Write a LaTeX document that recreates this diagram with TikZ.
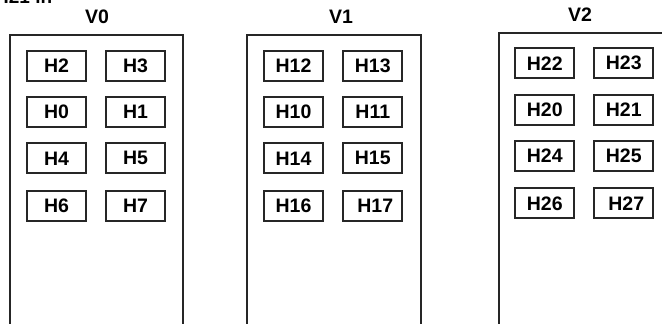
\documentclass[tikz,border=0pt]{standalone}
\usepackage{fontspec}
\setmainfont{Liberation Sans}
\begin{document}
\begin{tikzpicture}[x=1pt,y=-1pt,
  host/.style={draw=black!85, line width=1.7pt, minimum width=59pt, minimum height=30pt, inner sep=0pt,
    font=\fontsize{19.5}{22}\selectfont\bfseries},
  container/.style={draw=black!85, line width=1.7pt, anchor=north west, inner sep=0pt},
  vlabel/.style={font=\fontsize{19.5}{22}\selectfont\bfseries, inner sep=0pt}]
\useasboundingbox (0,0) rectangle (662,324);
\clip (0,0) rectangle (662,324);
\node[anchor=base west, inner sep=0pt, font=\fontsize{19}{22}\selectfont\bfseries] (frag) at (-5,4) {H21 in};
% containers
\node[container, minimum width=173pt, minimum height=320pt] (V0box) at (9,34) {};
\node[container, minimum width=174pt, minimum height=320pt] (V1box) at (246,34) {};
\node[container, minimum width=200pt, minimum height=320pt] (V2box) at (498,32) {};
\node[vlabel] (V0) at (97,17) {V0};
\node[vlabel] (V1) at (341,17) {V1};
\node[vlabel] (V2) at (580,15) {V2};
% V0 hosts
\node[host] (H2) at (56.5,66) {H2};
\node[host] (H3) at (135.5,66) {H3};
\node[host] (H0) at (56.5,112) {H0};
\node[host] (H1) at (135.5,112) {H1};
\node[host] (H4) at (56.5,158.3) {H4};
\node[host] (H5) at (135.5,158.3) {H5};
\node[host] (H6) at (56.5,205.7) {H6};
\node[host] (H7) at (135.5,205.7) {H7};
% V1 hosts
\node[host] (H12) at (293.5,66) {H12};
\node[host] (H13) at (372.8,66) {H13};
\node[host] (H10) at (293.5,112) {H10};
\node[host] (H11) at (372.8,112) {H11};
\node[host] (H14) at (293.5,158.3) {H14};
\node[host] (H15) at (372.8,158.3) {H15};
\node[host] (H16) at (293.5,205.7) {H16};
\node[host] (H17) at (372.8,205.7) {\hspace{5pt}H17};
% V2 hosts
\node[host] (H22) at (544.8,63.3) {H22};
\node[host] (H23) at (623.8,63.3) {H23};
\node[host] (H20) at (544.8,109.7) {H20};
\node[host] (H21) at (623.8,109.7) {H21};
\node[host] (H24) at (544.8,156) {H24};
\node[host] (H25) at (623.8,156) {H25};
\node[host] (H26) at (544.8,203.3) {H26};
\node[host] (H27) at (623.8,203.3) {\hspace{5pt}H27};
\end{tikzpicture}
\end{document}
